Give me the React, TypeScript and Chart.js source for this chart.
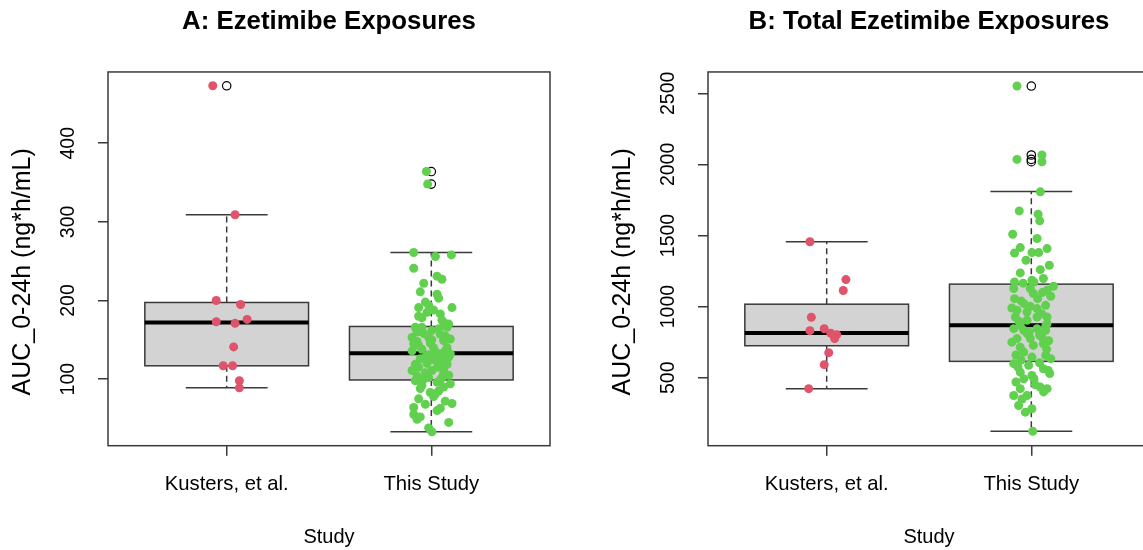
import { useEffect, useRef } from 'react';
import { Chart, registerables } from 'chart.js';

Chart.register(...registerables);

// ---------------------------------------------------------------------------
// Text
// ---------------------------------------------------------------------------
const categories = ['Kusters, et al.', 'This Study'];
const panelTitles = ['A: Ezetimibe Exposures', 'B: Total Ezetimibe Exposures'];
const yAxisTitle = 'AUC_0-24h (ng*h/mL)';
const xAxisTitle = 'Study';

// ---------------------------------------------------------------------------
// Axis ticks and ranges
// ---------------------------------------------------------------------------
const yTicksA = [100, 200, 300, 400];
const yTicksB = [500, 1000, 1500, 2000, 2500];
const yRangeA = [15.4, 490.6];
const yRangeB = [22, 2650];
const xRange = [0.42, 2.58];

// ---------------------------------------------------------------------------
// Panel A: ezetimibe AUC
// ---------------------------------------------------------------------------
const kustersA = [473, 309, 200, 195, 173, 171, 176, 141, 117, 117, 98, 89];
const kustersJitterA = [-0.068, 0.041, -0.051, 0.068, -0.051, 0.041, 0.1, 0.034, -0.017, 0.029, 0.062, 0.062];

const studyA = [
  364, 348, 261, 256, 258, 241, 231, 227, 222, 211, 208, 203, 198, 191, 194, 191,
  180, 175, 170, 172, 185, 188, 178, 183, 166, 166, 166, 160, 162, 153, 153, 157,
  145, 140, 140, 148, 149, 158, 155, 146, 151, 143, 164, 150, 132, 132, 136, 131,
  136, 138, 135, 126, 125, 128, 128, 119, 119, 122, 115, 115, 113, 111, 108, 108,
  111, 102, 102, 104, 105, 120, 124, 98, 96, 99, 100, 85, 83, 90, 88, 92,
  81, 94, 75, 72, 78, 68, 69, 64, 60, 55, 63, 49, 52, 45, 38, 33,
];
const studyJitterA = [
  -0.024, -0.018, -0.086, 0.02, 0.098, -0.086, 0.028, 0.052, -0.037, -0.054, 0.028, 0.036, -0.029, -0.062, -0.013, 0.101,
  -0.062, 0.052, 0.085, 0.06, -0.021, 0.011, -0.046, 0.044, -0.078, -0.046, 0.077, -0.07, 0.003, -0.094, -0.013, 0.044,
  -0.086, 0.011, 0.077, -0.07, 0.06, -0.037, 0.068, -0.005, 0.093, -0.062, 0.036, 0.003, 0.093, 0.044, -0.094, -0.013,
  0.068, -0.046, 0.02, -0.054, 0.011, 0.085, -0.029, -0.078, 0.077, 0.036, -0.062, 0.028, 0.06, -0.094, -0.029, 0.06,
  0.003, 0.052, -0.013, -0.07, 0.085, -0.021, 0.068, -0.078, 0.028, 0.044, -0.037, 0.036, -0.005, 0.06, -0.054, -0.046,
  0.02, 0.093, -0.062, 0.068, 0.011, -0.029, 0.101, -0.086, 0.028, -0.086, 0.044, -0.07, -0.054, 0.085, -0.013, 0.003,
];

// Box statistics per study (Kusters, This Study)
const whiskerLowA = [89, 33];
const hingeLowA = [117, 99];
const medianA = [172, 133];
const hingeHighA = [197.5, 167];
const whiskerHighA = [309, 261];
const outliersA = [[473], [364, 348]];

// ---------------------------------------------------------------------------
// Panel B: total ezetimibe AUC
// ---------------------------------------------------------------------------
const kustersB = [1456, 1190, 1113, 925, 831, 845, 813, 803, 775, 676, 592, 423];
const kustersJitterB = [-0.082, 0.094, 0.081, -0.075, -0.082, -0.012, 0.02, 0.049, 0.039, 0.01, -0.012, -0.088];

const studyB = [
  2551, 2035, 2066, 2019, 1807, 1673, 1650, 1603, 1509, 1479, 1415, 1377, 1380, 1380, 1408, 1326,
  1291, 1260, 1237, 1185, 1173, 1173, 1198, 1165, 1143, 1127, 1127, 1115, 1056, 1056, 1073, 1021,
  1002, 1009, 974, 962, 986, 927, 904, 927, 927, 1092, 1040, 950, 880, 895, 1100, 990,
  868, 861, 845, 833, 845, 833, 775, 775, 786, 715, 727, 739, 680, 645, 657, 634,
  810, 800, 760, 700, 660, 820, 750, 625, 599, 587, 539, 516, 563, 551, 493, 493,
  423, 434, 423, 375, 375, 305, 258, 282, 124, 605, 530, 470, 450, 400, 350, 575,
];
const studyJitterB = [
  -0.07, -0.07, 0.052, 0.052, 0.044, -0.059, 0.033, 0.041, -0.091, 0.028, -0.054, -0.082, 0.003, 0.036, 0.077, -0.026,
  0.088, 0.044, -0.054, 0.003, -0.082, 0.013, 0.059, -0.04, 0.108, -0.086, -0.005, 0.077, -0.082, 0.031, 0.095, -0.036,
  -0.005, 0.07, -0.07, -0.021, 0.028, -0.078, -0.021, 0.028, 0.077, 0.01, -0.05, 0.05, 0.077, -0.06, 0.055, -0.095,
  -0.054, 0.07, -0.086, -0.037, 0.028, 0.07, -0.07, -0.005, 0.052, -0.054, 0.01, 0.059, -0.037, 0.003, 0.07, 0.095,
  -0.02, 0.04, 0.085, 0.075, -0.075, -0.01, -0.095, -0.05, -0.086, -0.013, -0.054, 0.003, 0.059, 0.083, -0.037, 0.013,
  -0.054, 0.044, 0.077, -0.086, -0.021, -0.062, -0.029, 0.003, 0.007, 0.04, 0.09, -0.075, 0.02, 0.06, -0.045, -0.065,
];

const whiskerLowB = [423, 124];
const hingeLowB = [725, 615];
const medianB = [815, 869];
const hingeHighB = [1017, 1158];
const whiskerHighB = [1456, 1810];
const outliersB = [[], [2551, 2066, 2035, 2019]];

// ---------------------------------------------------------------------------
// Styling
// ---------------------------------------------------------------------------
const FONT = '"Liberation Sans", Arial, sans-serif';
const RED = '#DF536B';
const GREEN = '#61D04F';
const BOX_FILL = '#D3D3D3';
const LINE = '#3a3a3a';

const CANVAS_W = 571;
const CANVAS_H = 550;
const Y_AXIS_W = 108;
const X_AXIS_H = 104.3;
const TICK_LEN = 10;
const TICK_FONT = 19.5;
const Y_TITLE_FONT = 25;
const Y_TITLE_X = 23;
const Y_TITLE_SHIFT = 13;

interface BoxStats {
  low: number[];
  q1: number[];
  med: number[];
  q3: number[];
  high: number[];
}

interface PanelSpec {
  title: string;
  yTicks: number[];
  yRange: number[];
  kusters: number[];
  kustersJitter: number[];
  study: number[];
  studyJitter: number[];
  box: BoxStats;
  outliers: number[][];
}

const panels: PanelSpec[] = [
  {
    title: panelTitles[0],
    yTicks: yTicksA,
    yRange: yRangeA,
    kusters: kustersA,
    kustersJitter: kustersJitterA,
    study: studyA,
    studyJitter: studyJitterA,
    box: { low: whiskerLowA, q1: hingeLowA, med: medianA, q3: hingeHighA, high: whiskerHighA },
    outliers: outliersA,
  },
  {
    title: panelTitles[1],
    yTicks: yTicksB,
    yRange: yRangeB,
    kusters: kustersB,
    kustersJitter: kustersJitterB,
    study: studyB,
    studyJitter: studyJitterB,
    box: { low: whiskerLowB, q1: hingeLowB, med: medianB, q3: hingeHighB, high: whiskerHighB },
    outliers: outliersB,
  },
];

function measureWidest(labels: string[], size: number): number {
  const c = document.createElement('canvas').getContext('2d');
  if (!c) return 0;
  c.font = `${size}px ${FONT}`;
  return Math.max(...labels.map((l) => c.measureText(l).width));
}

// Box-and-whisker marks (under the points), plot frame and y-axis title
function boxPlugin(stats: BoxStats) {
  return {
    id: 'rBoxes',
    beforeDatasetsDraw(chart: any) {
      const { ctx, scales } = chart;
      const xs = scales.x;
      const ys = scales.y;
      ctx.save();
      for (let i = 0; i < stats.med.length; i++) {
        const pos = i + 1;
        const xc = xs.getPixelForValue(pos);
        const bl = xs.getPixelForValue(pos - 0.4);
        const br = xs.getPixelForValue(pos + 0.4);
        const cl = xs.getPixelForValue(pos - 0.2);
        const cr = xs.getPixelForValue(pos + 0.2);
        const yLow = ys.getPixelForValue(stats.low[i]);
        const yQ1 = ys.getPixelForValue(stats.q1[i]);
        const yMed = ys.getPixelForValue(stats.med[i]);
        const yQ3 = ys.getPixelForValue(stats.q3[i]);
        const yHigh = ys.getPixelForValue(stats.high[i]);

        ctx.strokeStyle = LINE;
        ctx.lineWidth = 1.5;

        // dashed whiskers
        ctx.setLineDash([6, 4]);
        ctx.beginPath();
        ctx.moveTo(xc, yQ3);
        ctx.lineTo(xc, yHigh);
        ctx.moveTo(xc, yQ1);
        ctx.lineTo(xc, yLow);
        ctx.stroke();
        ctx.setLineDash([]);

        // whisker caps
        ctx.beginPath();
        ctx.moveTo(cl, yHigh);
        ctx.lineTo(cr, yHigh);
        ctx.moveTo(cl, yLow);
        ctx.lineTo(cr, yLow);
        ctx.stroke();

        // box
        ctx.fillStyle = BOX_FILL;
        ctx.fillRect(bl, yQ3, br - bl, yQ1 - yQ3);
        ctx.strokeRect(bl, yQ3, br - bl, yQ1 - yQ3);

        // median
        ctx.strokeStyle = '#000';
        ctx.lineWidth = 4;
        ctx.beginPath();
        ctx.moveTo(bl, yMed);
        ctx.lineTo(br, yMed);
        ctx.stroke();
      }
      ctx.restore();
    },
    afterDatasetsDraw(chart: any) {
      const { ctx, chartArea } = chart;
      ctx.save();
      ctx.strokeStyle = LINE;
      ctx.lineWidth = 1.5;
      ctx.strokeRect(chartArea.left, chartArea.top, chartArea.right - chartArea.left, chartArea.bottom - chartArea.top);

      // y-axis title, rotated to read bottom-to-top
      ctx.translate(Y_TITLE_X, (chartArea.top + chartArea.bottom) / 2 + Y_TITLE_SHIFT);
      ctx.rotate(-Math.PI / 2);
      ctx.fillStyle = '#000';
      ctx.font = `${Y_TITLE_FONT}px ${FONT}`;
      ctx.textAlign = 'center';
      ctx.textBaseline = 'middle';
      ctx.fillText(yAxisTitle, 0, 0);
      ctx.restore();
    },
  };
}

function buildConfig(p: PanelSpec): any {
  const widest = measureWidest(p.yTicks.map(String), TICK_FONT);
  const yTickPad = Y_AXIS_W - TICK_LEN - 69 - widest / 2;

  const kustersPts = p.kusters.map((v, i) => ({ x: 1 + p.kustersJitter[i], y: v }));
  const studyPts = p.study.map((v, i) => ({ x: 2 + p.studyJitter[i], y: v }));
  const outlierPts = p.outliers.flatMap((list, i) => list.map((v) => ({ x: i + 1, y: v })));

  return {
    type: 'scatter',
    data: {
      datasets: [
        {
          label: categories[0],
          data: kustersPts,
          backgroundColor: RED,
          borderWidth: 0,
          pointRadius: 4.5,
          order: 1,
        },
        {
          label: categories[1],
          data: studyPts,
          backgroundColor: GREEN,
          borderWidth: 0,
          pointRadius: 4.5,
          order: 1,
        },
        {
          label: 'outliers',
          data: outlierPts,
          backgroundColor: 'rgba(0,0,0,0)',
          borderColor: '#000',
          borderWidth: 1.2,
          pointRadius: 4.2,
          order: 2,
        },
      ],
    },
    options: {
      responsive: false,
      animation: false,
      events: [],
      devicePixelRatio: 1,
      layout: { padding: { left: 0, right: CANVAS_W - 550, top: 0, bottom: 0 } },
      font: { family: FONT },
      plugins: {
        legend: { display: false },
        tooltip: { enabled: false },
        title: {
          display: true,
          text: p.title,
          color: '#000',
          fullSize: false,
          font: { family: FONT, size: 25.8, weight: 'bold' },
          padding: { top: 6, bottom: 35 },
        },
      },
      scales: {
        x: {
          type: 'linear',
          min: xRange[0],
          max: xRange[1],
          afterBuildTicks: (s: any) => {
            s.ticks = categories.map((_, i) => ({ value: i + 1 }));
          },
          afterFit: (s: any) => {
            s.height = X_AXIS_H;
          },
          grid: { drawOnChartArea: false, drawTicks: true, tickLength: TICK_LEN, color: LINE, lineWidth: 1.5 },
          border: { display: false },
          ticks: {
            autoSkip: false,
            minRotation: 0,
            maxRotation: 0,
            padding: 17,
            color: '#000',
            font: { family: FONT, size: 20.3 },
            callback: (v: number) => categories[Math.round(v) - 1],
          },
          title: {
            display: true,
            text: xAxisTitle,
            color: '#000',
            font: { family: FONT, size: 20 },
            padding: { top: 0, bottom: 1 },
          },
        },
        y: {
          type: 'linear',
          min: p.yRange[0],
          max: p.yRange[1],
          afterBuildTicks: (s: any) => {
            s.ticks = p.yTicks.map((v) => ({ value: v }));
          },
          afterFit: (s: any) => {
            s.width = Y_AXIS_W;
          },
          grid: { drawOnChartArea: false, drawTicks: true, tickLength: TICK_LEN, color: LINE, lineWidth: 1.5 },
          border: { display: false },
          ticks: {
            minRotation: 90,
            maxRotation: 90,
            crossAlign: 'center',
            padding: yTickPad,
            color: '#000',
            font: { family: FONT, size: TICK_FONT },
            callback: (v: number) => String(v),
          },
          title: { display: false },
        },
      },
    },
    plugins: [boxPlugin(p.box)],
  };
}

function Panel({ spec, left }: { spec: PanelSpec; left: number }) {
  const ref = useRef<HTMLCanvasElement>(null);
  useEffect(() => {
    if (!ref.current) return;
    const chart = new Chart(ref.current, buildConfig(spec));
    return () => chart.destroy();
  }, [spec]);
  return (
    <canvas
      ref={ref}
      width={CANVAS_W}
      height={CANVAS_H}
      style={{ position: 'absolute', left, top: 0, width: CANVAS_W, height: CANVAS_H }}
    />
  );
}

export default function App() {
  return (
    <div
      style={{
        position: 'fixed',
        left: 0,
        top: 0,
        width: 1143,
        height: 550,
        overflow: 'hidden',
        background: '#fff',
      }}
    >
      <Panel spec={panels[0]} left={0} />
      <Panel spec={panels[1]} left={600} />
    </div>
  );
}
